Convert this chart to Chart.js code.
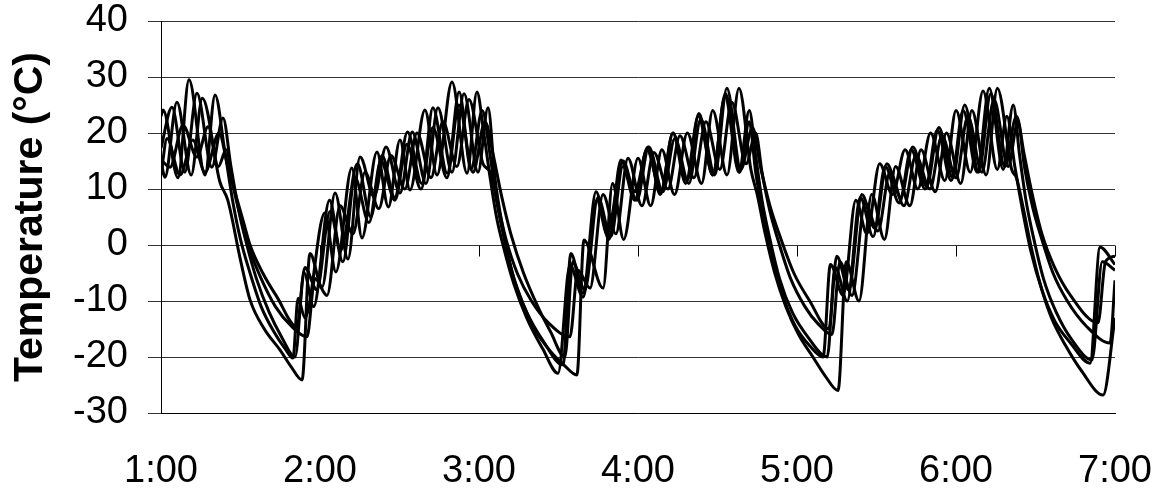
<!DOCTYPE html>
<html>
<head>
<meta charset="utf-8">
<script src="https://cdn.jsdelivr.net/npm/chart.js@4.4.1/dist/chart.umd.min.js"></script>
<style>
  html, body { margin: 0; padding: 0; background: #fff; }
  #wrap { width: 1168px; height: 494px; }
</style>
</head>
<body>
<div id="wrap"><canvas id="tempChart" width="1168" height="494"></canvas></div>
<script>
// time in hours (1 = 1:00), temperature in °C
const hourTicks = [1, 2, 3, 4, 5, 6, 7];
const tempTicks = [-30, -20, -10, 0, 10, 20, 30, 40];

const sensor1 = [
  [1.00,15],[1.025,12.1],[1.10,25.5],[1.19,12.5],[1.26,26.2],[1.37,11.3],
  [1.42,8],[1.50,-2.7],[1.56,-9.8],[1.65,-15],[1.75,-18.8],[1.82,-21.8],[1.887,-24.1],
  [1.937,-1.5],[2.013,-7.5],[2.095,9.3],[2.176,-2.5],[2.252,15.7],[2.34,8.6],[2.415,17.5],[2.503,9.3],[2.58,20.2],[2.667,11],[2.742,24.5],[2.83,13],[2.906,27],[2.994,13],[3.057,24.5],
  [3.10,12],[3.15,3],[3.20,-4],[3.27,-10],[3.35,-15],[3.45,-19],[3.53,-21.3],[3.616,-23.2],
  [3.66,0.9],[3.78,-7.7],[3.84,11],[3.91,1],[4.00,15.5],[4.08,7],[4.15,17],[4.23,9],[4.31,20],[4.40,11],[4.47,24],[4.56,12.5],[4.635,28],[4.71,13.5],
  [4.75,9],[4.80,2],[4.86,-5],[4.93,-11],[5.01,-16],[5.10,-20],[5.18,-23.5],[5.258,-26],
  [5.31,-3],[5.39,-10],[5.47,9],[5.55,1],[5.62,14],[5.71,7],[5.78,17],[5.87,9.5],[5.94,20],[6.03,11],[6.10,24],[6.19,12.5],[6.26,28],[6.35,13.5],[6.38,12],
  [6.42,7],[6.47,0],[6.53,-7],[6.60,-13],[6.69,-18],[6.79,-22.5],[6.925,-26.8],[7.00,-13]
];

const sensor2 = [
  [1.00,23],[1.013,24.1],[1.107,12],[1.176,29.5],[1.277,12.5],[1.34,26.8],
  [1.40,17],[1.45,8],[1.50,1],[1.56,-5],[1.63,-11],[1.71,-15.5],[1.78,-18.5],[1.83,-20.2],
  [1.862,-9.5],[1.905,-13],[2.03,5.7],[2.10,-4.8],[2.20,13.75],[2.264,1.25],[2.358,16.6],[2.43,6.8],[2.503,18.75],[2.566,9.8],[2.66,24.1],[2.736,12.5],[2.83,29.1],[2.925,12.8],[2.987,27.3],
  [3.03,20],[3.07,12],[3.11,5],[3.16,-1],[3.22,-7],[3.30,-13],[3.40,-18.5],[3.497,-22.9],
  [3.572,-3.6],[3.654,-9.3],[3.742,8],[3.805,2],[3.906,15],[3.98,9.5],[4.063,17.5],[4.14,9],[4.22,20],[4.30,11],[4.38,23],[4.47,12.5],[4.55,27],[4.64,13],[4.70,22],
  [4.74,13],[4.79,5],[4.84,-2],[4.91,-9],[4.99,-14.5],[5.08,-18],[5.164,-20],
  [5.21,-3.5],[5.29,-9],[5.37,8],[5.44,2],[5.52,14.5],[5.60,9],[5.68,17],[5.76,10],[5.84,20],[5.93,11.5],[6.00,24],[6.09,13],[6.17,27.5],[6.26,13.5],[6.32,23],
  [6.37,14],[6.42,6],[6.47,-1],[6.54,-8],[6.62,-13.5],[6.72,-17.5],[6.843,-21.1],[6.906,-0.4],[7.00,-3.5]
];

const sensor3 = [
  [1.00,17.3],[1.069,24.6],[1.15,13],[1.226,27.1],[1.32,13.9],[1.39,22.7],
  [1.44,14],[1.49,6],[1.54,0],[1.60,-6],[1.68,-12],[1.76,-16.5],[1.843,-20],
  [1.90,-5],[1.96,-11],[2.06,8],[2.13,-1],[2.235,14.5],[2.32,5],[2.39,16],[2.47,8.5],[2.55,20.2],[2.64,11],[2.71,24.5],[2.80,12.8],[2.875,27.3],[2.95,13.5],[3.02,24],
  [3.07,16],[3.11,8],[3.16,1],[3.22,-6],[3.30,-12],[3.40,-17],[3.528,-21.4],
  [3.578,-1.5],[3.654,-8.6],[3.736,9.5],[3.817,1],[3.893,15.2],[3.98,8],[4.056,17],[4.144,9.5],[4.22,20],[4.308,11.5],[4.383,23.5],[4.47,12.5],[4.547,26.5],[4.635,13],[4.70,24],
  [4.74,16],[4.78,8],[4.83,1],[4.89,-6],[4.97,-12],[5.07,-16.5],[5.19,-20],
  [5.24,-4],[5.316,-10],[5.398,8.5],[5.479,1.5],[5.555,14],[5.643,7.5],[5.718,17],[5.806,10],[5.882,20.5],[5.97,11.5],[6.045,24],[6.133,13],[6.209,28],[6.297,13.5],[6.36,25],
  [6.40,16],[6.44,8],[6.49,1],[6.55,-6],[6.63,-12],[6.73,-17],[6.855,-20.5],[6.92,-3],[7.00,-4.5]
];

const sensor4 = [
  [1.00,15.2],[1.057,13.9],[1.138,21.4],[1.226,15.7],[1.296,21.1],[1.36,14],[1.41,17],
  [1.45,11],[1.50,5],[1.56,-1],[1.63,-6],[1.72,-11],[1.82,-14.5],[1.918,-16.4],
  [1.968,-6],[2.044,-9],[2.126,7],[2.207,2],[2.283,13],[2.37,6.5],[2.446,16],[2.534,10],[2.61,20],[2.698,12],[2.773,22],[2.861,14],[2.937,26],[3.025,14.5],
  [3.07,13],[3.12,7],[3.17,1],[3.24,-5],[3.33,-10],[3.44,-14],[3.572,-16.4],
  [3.622,-4.5],[3.698,-7.7],[3.78,9],[3.861,2],[3.937,15.5],[4.025,7],[4.10,16.5],[4.188,10],[4.264,19.5],[4.352,12],[4.427,22],[4.515,13.5],[4.59,25.5],[4.68,14.5],[4.74,20],
  [4.78,13],[4.83,6],[4.89,0],[4.96,-6],[5.05,-11],[5.13,-14],[5.22,-16],
  [5.27,-3],[5.346,-9],[5.428,7.5],[5.509,2.5],[5.585,13],[5.673,7],[5.748,16],[5.836,10],[5.912,19.5],[6.00,12],[6.075,23],[6.163,13],[6.239,26],[6.327,14],[6.39,22],
  [6.43,14],[6.48,7],[6.54,1],[6.61,-5],[6.70,-10],[6.82,-14.5],[6.969,-17.5],[7.00,-6.3]
];

const sensor5 = [
  [1.00,12.5],[1.038,19],[1.12,12.5],[1.20,18.75],[1.277,13],[1.365,20],
  [1.42,14],[1.47,9],[1.52,4],[1.56,0],[1.64,-5],[1.73,-9.3],[1.855,-14.6],
  [1.905,-4],[1.98,-8],[2.063,6],[2.144,-3],[2.22,12],[2.308,4],[2.383,15],[2.471,8],[2.547,18],[2.635,10],[2.71,21],[2.798,12],[2.874,25],[2.962,13],[3.038,22],[3.09,16],
  [3.14,9],[3.20,2],[3.28,-5],[3.37,-11],[3.45,-15.5],[3.54,-20],
  [3.59,-3],[3.666,-8],[3.748,8.5],[3.829,1.5],[3.905,14],[3.993,8],[4.068,17.5],[4.156,9.5],[4.232,19],[4.32,11],[4.395,22.5],[4.483,12.5],[4.559,28],[4.647,13.5],[4.72,21],
  [4.77,14],[4.83,7],[4.90,1],[4.98,-5],[5.08,-10],[5.20,-15],
  [5.25,-2],[5.326,-8],[5.408,9],[5.489,3],[5.565,14.5],[5.653,8.5],[5.728,17.5],[5.816,10.5],[5.892,21],[5.98,12],[6.055,25],[6.143,13],[6.219,27],[6.307,14],[6.38,23],
  [6.43,16],[6.48,9],[6.54,2],[6.62,-4],[6.72,-9],[6.893,-13.9],[6.94,-3],[7.00,-2]
];

const allSensors = [sensor1, sensor2, sensor3, sensor4, sensor5];

const fontFamily = "Arial, 'Liberation Sans', sans-serif";

// small tick marks where the time axis crosses 0 °C
const zeroAxisTicks = {
  id: 'zeroAxisTicks',
  afterDatasetsDraw(chart) {
    const { ctx, scales } = chart;
    const y0 = Math.round(scales.y.getPixelForValue(0)) + 0.5;
    ctx.save();
    ctx.strokeStyle = '#000';
    ctx.lineWidth = 1;
    ctx.beginPath();
    hourTicks.forEach(h => {
      const x = Math.round(scales.x.getPixelForValue(h)) + 0.5;
      ctx.moveTo(x, y0);
      ctx.lineTo(x, y0 + 11);
    });
    ctx.stroke();
    ctx.restore();
  }
};

const ctx = document.getElementById('tempChart').getContext('2d');
const chart = new Chart(ctx, {
  type: 'line',
  data: {
    datasets: allSensors.map(s => ({
      data: s.map(p => ({ x: p[0], y: p[1] })),
      borderColor: '#000',
      borderWidth: 3,
      pointRadius: 0,
      cubicInterpolationMode: 'monotone',
      fill: false
    }))
  },
  options: {
    responsive: false,
    devicePixelRatio: 1,
    animation: false,
    layout: { padding: { top: 21, right: 53, left: 0, bottom: 0 } },
    plugins: { legend: { display: false }, tooltip: { enabled: false } },
    scales: {
      x: {
        type: 'linear',
        min: 1,
        max: 7,
        afterBuildTicks: scale => { scale.ticks = hourTicks.map(v => ({ value: v })); },
        afterFit: scale => {
          scale.height = 81;
          scale.paddingLeft = 0;
          scale.paddingRight = 0;
        },
        grid: { display: false, drawTicks: false },
        border: { display: true, color: '#000', width: 1 },
        ticks: {
          color: '#000',
          font: { family: fontFamily, size: 38 },
          padding: 36,
          maxRotation: 0,
          autoSkip: false,
          callback: v => v + ':00'
        }
      },
      y: {
        min: -30,
        max: 40,
        afterBuildTicks: scale => { scale.ticks = tempTicks.map(v => ({ value: v })); },
        afterFit: scale => {
          scale.width = 161;
          scale.paddingTop = 0;
          scale.paddingBottom = 0;
        },
        grid: { color: '#333', lineWidth: 1, tickLength: 13, drawTicks: true },
        border: { display: true, color: '#000', width: 1 },
        ticks: {
          color: '#000',
          font: { family: fontFamily, size: 38 },
          padding: 20
        },
        title: {
          display: true,
          text: 'Temperature (°C)',
          color: '#000',
          font: { family: fontFamily, size: 41, weight: 'bold' },
          padding: { top: 6, bottom: 0 }
        }
      }
    }
  },
  plugins: [zeroAxisTicks]
});
</script>
</body>
</html>
